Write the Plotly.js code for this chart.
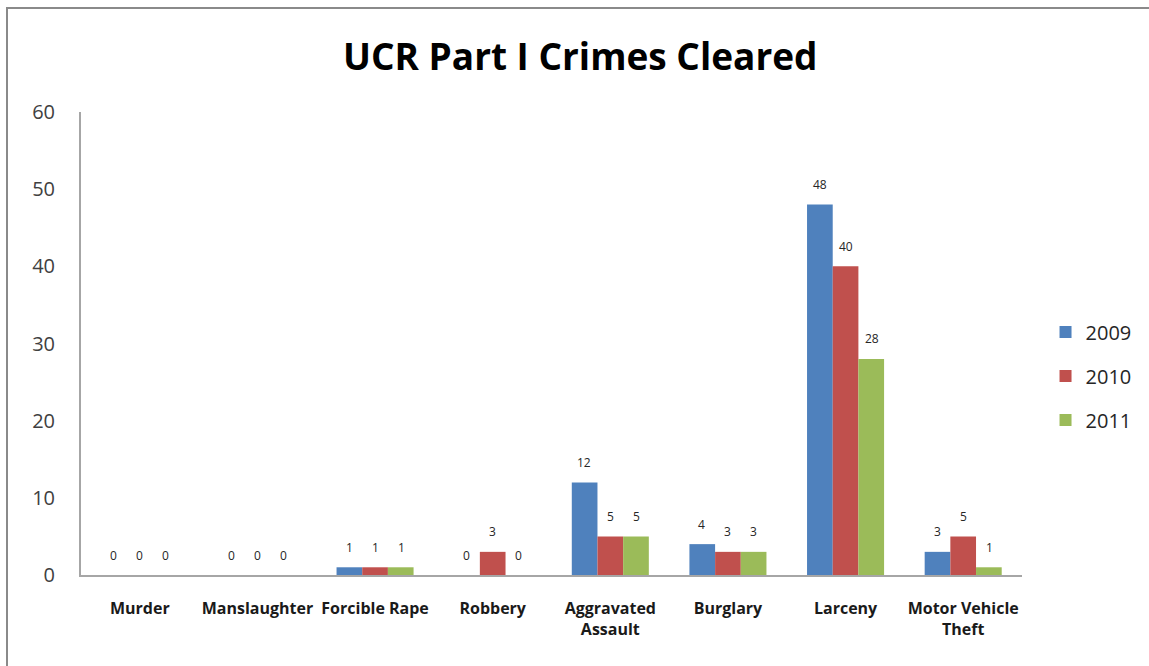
<!DOCTYPE html>
<html>
<head>
<meta charset="utf-8">
<script src="https://cdn.plot.ly/plotly-3.0.1.min.js"></script>
<style>
  html, body { margin: 0; padding: 0; background: #ffffff; overflow: hidden; }
  #wrap { position: absolute; left: 6px; top: 7px; right: 0; bottom: 0; border-top: 2px solid #8a8a8a; border-left: 2px solid #8a8a8a; }
  #chart { position: absolute; left: 0; top: 0; width: 1149px; height: 666px; }
</style>
</head>
<body>
<div id="wrap"></div>
<div id="chart"></div>
<script>
const categories = ["Murder", "Manslaughter", "Forcible Rape", "Robbery", "Aggravated<br>Assault", "Burglary", "Larceny", "Motor Vehicle<br>Theft"];
const years = ["2009", "2010", "2011"];
const values2009 = [0, 0, 1, 0, 12, 4, 48, 3];
const values2010 = [0, 0, 1, 3, 5, 3, 40, 5];
const values2011 = [0, 0, 1, 0, 5, 3, 28, 1];
const colors = ["#4F81BD", "#C0504D", "#9BBB59"];

const series = [values2009, values2010, values2011];
const traces = series.map((vals, i) => ({
  type: "bar",
  name: years[i],
  x: categories,
  y: vals,
  marker: { color: colors[i] },
  legendgroup: "g" + i,
  hoverinfo: "x+y+name"
}));

// data labels above each bar, offset by group position
const barPx = 26;
const annotations = [];
series.forEach((vals, i) => {
  vals.forEach((v, j) => {
    annotations.push({
      x: categories[j],
      y: v,
      xref: "x",
      yref: "y",
      text: String(v),
      showarrow: false,
      xshift: (i - 1) * barPx,
      yshift: 20,
      font: { family: "Open Sans, sans-serif", size: 12, color: "#262626" }
    });
  });
});

const layout = {
  width: 1149,
  height: 666,
  paper_bgcolor: "rgba(0,0,0,0)",
  plot_bgcolor: "rgba(0,0,0,0)",
  margin: { l: 81, r: 116, t: 112, b: 91 },
  title: {
    text: "<b>UCR Part I Crimes Cleared</b>",
    x: 0.505,
    xanchor: "center",
    y: 0.915,
    yanchor: "middle",
    font: { family: "Open Sans, sans-serif", size: 37, color: "#000000" }
  },
  barmode: "group",
  bargap: 0.345,
  bargroupgap: 0,
  xaxis: {
    showline: true,
    linecolor: "#a6a6a6",
    linewidth: 2,
    ticks: "",
    showgrid: false,
    tickfont: { family: "Open Sans, sans-serif", size: 16, color: "#1a1a1a", weight: "bold" },
    ticklabelstandoff: 18,
    fixedrange: true
  },
  yaxis: {
    range: [0, 60],
    dtick: 10,
    showline: true,
    linecolor: "#a6a6a6",
    linewidth: 2,
    ticks: "",
    showgrid: false,
    zeroline: false,
    tickfont: { family: "Open Sans, sans-serif", size: 20, color: "#404040" },
    ticklabelstandoff: 20,
    fixedrange: true
  },
  legend: {
    x: 1.025,
    xanchor: "left",
    y: 0.43,
    yanchor: "middle",
    font: { family: "Open Sans, sans-serif", size: 20, color: "#262626" },
    tracegroupgap: 15,
    itemwidth: 30
  },
  annotations: annotations,
  showlegend: true
};

Plotly.newPlot("chart", traces, layout, { displayModeBar: false });
</script>
</body>
</html>
